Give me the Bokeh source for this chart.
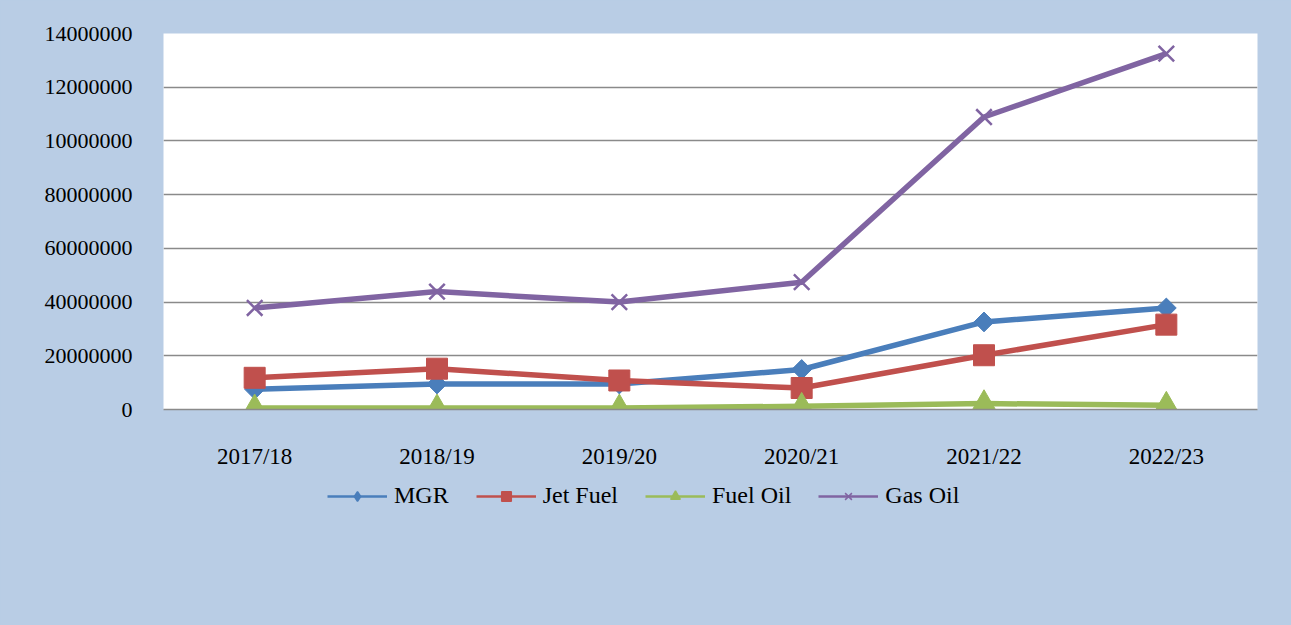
import numpy as np
from bokeh.plotting import figure
from bokeh.layouts import column
from bokeh.models import FactorRange, Range1d, FixedTicker, Legend, LegendItem
from bokeh.embed import file_html
from bokeh.resources import INLINE

years = ["2017/18", "2018/19", "2019/20", "2020/21", "2021/22", "2022/23"]
mgr = [750000, 950000, 950000, 1490000, 3260000, 3780000]
jet_fuel = [1180000, 1520000, 1080000, 800000, 2020000, 3160000]
fuel_oil = [60000, 60000, 60000, 120000, 220000, 160000]
gas_oil = [3780000, 4390000, 4000000, 4740000, 10890000, 13250000]

y_ticks = [0, 2000000, 4000000, 6000000, 8000000, 10000000, 12000000, 14000000]
y_tick_labels = ["0", "20000000", "40000000", "60000000", "80000000",
                 "10000000", "12000000", "14000000"]

FONT = "Liberation Serif"
BG = "#B9CDE5"
GRID = "#8A8A8A"

p = figure(frame_width=1094, frame_height=376,
           x_range=FactorRange(factors=years),
           y_range=Range1d(0, 14000000), output_backend="svg",
           toolbar_location=None, background_fill_color="white",
           border_fill_color=BG, outline_line_color=None,
           min_border_left=163, min_border_right=34,
           min_border_top=33, min_border_bottom=60,
           styles={"background-color": BG})

p.xgrid.visible = False
p.ygrid.ticker = FixedTicker(ticks=y_ticks)
p.ygrid.grid_line_color = GRID
p.ygrid.grid_line_width = 1.5

p.yaxis.ticker = FixedTicker(ticks=y_ticks)
p.yaxis.major_label_overrides = {float(t): l for t, l in zip(y_ticks, y_tick_labels)}
p.yaxis.axis_line_color = None
p.yaxis.major_tick_line_color = None
p.yaxis.minor_tick_line_color = None
p.yaxis.major_label_standoff = 25
p.yaxis.major_label_text_font_size = "22px"

p.xaxis.axis_line_color = GRID
p.xaxis.axis_line_width = 1.5
p.xaxis.major_tick_line_color = None
p.xaxis.major_label_standoff = 28
p.xaxis.major_label_text_font_size = "23px"

for ax in (p.xaxis, p.yaxis):
    ax.major_label_text_font = FONT
    ax.major_label_text_color = "black"

# legend strip below the chart
p2 = figure(width=1291, height=156, x_range=FactorRange(factors=years),
            y_range=Range1d(0, 14000000), output_backend="svg",
            toolbar_location=None, x_axis_type=None, y_axis_type=None,
            background_fill_color=BG, border_fill_color=BG,
            outline_line_color=None, min_border=0,
            styles={"background-color": BG})
p2.grid.visible = False

series = [
    ("MGR", mgr, "#4A7EBB", dict(marker="square", size=14, angle=np.pi / 4), "diamond"),
    ("Jet Fuel", jet_fuel, "#C0504D", dict(marker="square", size=21), "square"),
    ("Fuel Oil", fuel_oil, "#9BBB59", dict(marker="triangle", size=24), "triangle"),
    ("Gas Oil", gas_oil, "#8064A2", dict(marker="x", size=22, line_width=2.5), "x"),
]

items = []
for name, vals, color, mk, lmk in series:
    p.line(years, vals, line_color=color, line_width=5.5, line_join="round")
    p.scatter(years, vals, fill_color=color, line_color=color, **mk)
    # legend-only renderers (thin line, small marker), not drawn
    ll = p2.line(years, vals, line_color=color, line_width=2.5, visible=False)
    ls = p2.scatter(years, vals, marker=lmk, fill_color=color, line_color=color,
                    line_width=1.5, visible=False)
    items.append(LegendItem(label=name, renderers=[ll, ls]))

legend = Legend(items=items, orientation="horizontal", location=(164, 118),
                background_fill_alpha=0, border_line_color=None,
                glyph_width=60, glyph_height=24, label_standoff=7, spacing=27,
                padding=0, margin=0, label_text_font=FONT,
                label_text_font_size="24px", label_text_color="black")
p2.add_layout(legend)

layout = column(p, p2, spacing=0, styles={"background-color": BG})
open("out.html", "w").write(file_html(layout, INLINE))
